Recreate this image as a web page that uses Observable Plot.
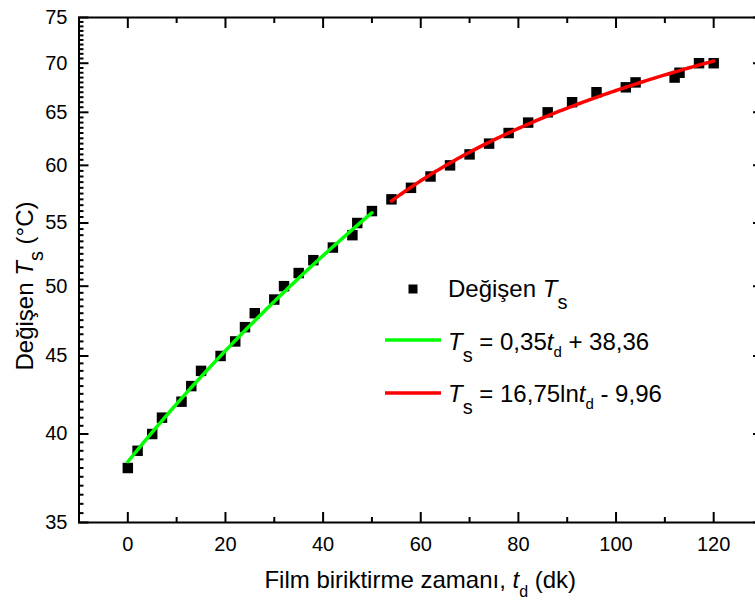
<!DOCTYPE html>
<html>
<head>
<meta charset="utf-8">
<script src="https://cdn.jsdelivr.net/npm/d3@7"></script>
<script src="https://cdn.jsdelivr.net/npm/@observablehq/plot@0.6"></script>
<style>
  html, body { margin: 0; padding: 0; background: #fff; overflow: hidden; }
</style>
</head>
<body>
<div id="chart"></div>
<script>
// Measured substrate temperature vs. film deposition time
const tMeasured  = [0, 2, 5, 7, 11, 13, 15, 19, 22, 24, 26, 30, 32, 35, 38, 42, 46, 47, 50,
                    54, 58, 62, 66, 70, 74, 78, 82, 86, 91, 96, 102, 104, 112, 113, 117, 120];
const tsMeasured = [38, 39, 40, 41, 42, 43, 44, 45, 46, 47, 48, 49, 50, 51, 52, 53, 54, 55, 56,
                    57, 58, 59, 60, 61, 62, 63, 64, 65, 66, 67, 67.5, 68, 68.5, 69, 70, 70];

// Fitted curves: Ts = a*t + b (0–50 dk) and Ts = c*ln(t) + d (54–120 dk)
const linSlope = 0.35, linIntercept = 38.36, linRange = [0, 50];
const logCoef = 16.75, logIntercept = -9.96, logRange = [54, 120];

// Axis ticks
const xMajorTicks = [0, 20, 40, 60, 80, 100, 120];
const xMinorTicks = [10, 30, 50, 70, 90, 110];
const yMajorTicks = [35, 40, 45, 50, 55, 60, 65, 70, 75];
const yMinorTicks = d3.range(35.5, 75, 0.5).filter(v => v % 5 !== 0);

const measured = tMeasured.map((t, i) => ({t, ts: tsMeasured[i]}));
const linFit = d3.range(linRange[0], linRange[1] + 1e-9, 0.5)
  .map(t => ({t, ts: linSlope * t + linIntercept}));
const logFit = d3.range(logRange[0], logRange[1] + 1e-9, 0.5)
  .map(t => ({t, ts: logCoef * Math.log(t) + logIntercept}));

const FONT = "'Liberation Sans', Arial, Helvetica, sans-serif";
const W = 755, H = 602;
const M = {top: 17, right: -7, bottom: 80, left: 78.5};

const tickOnly = {fill: "none", tickFormat: () => "", label: null};

const plot = Plot.plot({
  width: W,
  height: H,
  marginTop: M.top,
  marginRight: M.right,
  marginBottom: M.bottom,
  marginLeft: M.left,
  style: {fontFamily: FONT, background: "#fff", color: "black"},
  x: {domain: [-10, 130]},
  y: {type: "log", domain: [35, 75]},
  marks: [
    Plot.dot(measured, {x: "t", y: "ts", symbol: "square", r: 5.9, fill: "black", stroke: "none"}),
    Plot.line(linFit, {x: "t", y: "ts", stroke: "#00ff00", strokeWidth: 3.5}),
    Plot.line(logFit, {x: "t", y: "ts", stroke: "#ff0000", strokeWidth: 3.5}),

    // bottom axis: inward ticks with labels below
    Plot.axisX(xMajorTicks, {anchor: "bottom", tickSize: -10, tickPadding: 24, strokeWidth: 2,
      fontSize: 20, tickFormat: d => String(d), label: null}),
    Plot.axisX(xMinorTicks, {anchor: "bottom", tickSize: -5, strokeWidth: 2, ...tickOnly}),
    // top axis: inward ticks only
    Plot.axisX(xMajorTicks, {anchor: "top", tickSize: -10, strokeWidth: 2, ...tickOnly}),
    Plot.axisX(xMinorTicks, {anchor: "top", tickSize: -5, strokeWidth: 2, ...tickOnly}),

    // left axis: inward ticks with labels
    Plot.axisY(yMajorTicks, {anchor: "left", tickSize: -10, tickPadding: 21.5, strokeWidth: 2,
      fontSize: 20, tickFormat: d => String(d), label: null}),
    Plot.axisY(yMinorTicks, {anchor: "left", tickSize: -5, strokeWidth: 2, ...tickOnly}),
    // right axis: inward major ticks only
    Plot.axisY(yMajorTicks, {anchor: "right", tickSize: -10, strokeWidth: 2, ...tickOnly}),

    Plot.frame({stroke: "black", strokeWidth: 2})
  ]
});

document.getElementById("chart").appendChild(plot);

// Rich text (italic symbols and subscripts) added on top of the plot
const svg = d3.select(plot);

function richText(parent, x, y, parts, {size = 24, anchor = "start", rotate = 0} = {}) {
  const t = parent.append("text")
    .attr("transform", `translate(${x},${y}) rotate(${rotate})`)
    .attr("text-anchor", anchor)
    .attr("font-family", FONT)
    .attr("font-size", size)
    .attr("fill", "black")
    .style("white-space", "pre");
  let shift = 0;
  for (const p of parts) {
    const ts = t.append("tspan").text(p.text);
    const target = p.sub || 0;
    if (target !== shift) { ts.attr("dy", target - shift); shift = target; }
    if (p.italic) ts.attr("font-style", "italic");
    if (p.size) ts.attr("font-size", p.size);
  }
  return t;
}

const x0 = M.left, x1 = W - M.right;

// Axis titles
richText(svg, (x0 + x1) / 2, 588, [
  {text: "Film biriktirme zamanı, "},
  {text: "t", italic: true},
  {text: "d", sub: 9, size: 16},
  {text: " (dk)"}
], {size: 24, anchor: "middle"});

richText(svg, 33, 286, [
  {text: "Değişen "},
  {text: "T", italic: true},
  {text: "s", sub: 10, size: 20},
  {text: " (°C)"}
], {size: 24, anchor: "middle", rotate: -90});

// Legend
const legend = svg.append("g");
legend.append("rect").attr("x", 408.5).attr("y", 284.5).attr("width", 9).attr("height", 9).attr("fill", "black");
legend.append("line").attr("x1", 385).attr("x2", 441).attr("y1", 340).attr("y2", 340)
  .attr("stroke", "#00ff00").attr("stroke-width", 3.5);
legend.append("line").attr("x1", 385).attr("x2", 441).attr("y1", 393).attr("y2", 393)
  .attr("stroke", "#ff0000").attr("stroke-width", 3.5);

richText(legend, 448, 297, [
  {text: "Değişen "},
  {text: "T", italic: true},
  {text: "s", sub: 12, size: 20}
]);
richText(legend, 448, 350, [
  {text: "T", italic: true},
  {text: "s", sub: 12, size: 20},
  {text: " = 0,35"},
  {text: "t", italic: true},
  {text: "d", sub: 7, size: 15},
  {text: " + 38,36"}
]);
richText(legend, 448, 402, [
  {text: "T", italic: true},
  {text: "s", sub: 12, size: 20},
  {text: " = 16,75ln"},
  {text: "t", italic: true},
  {text: "d", sub: 7, size: 15},
  {text: " - 9,96"}
]);
</script>
</body>
</html>
